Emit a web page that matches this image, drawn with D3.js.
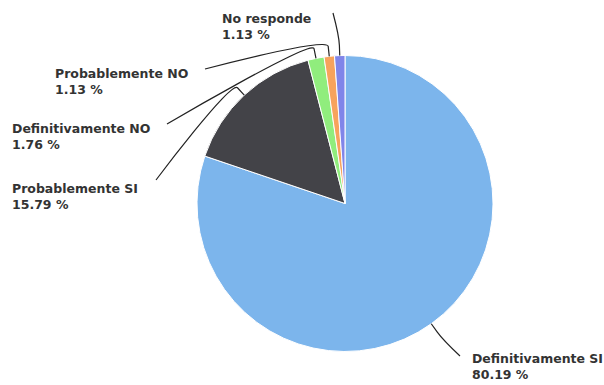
<!DOCTYPE html>
<html>
<head>
<meta charset="utf-8">
<script src="https://cdn.jsdelivr.net/npm/d3@7"></script>
<style>
  html, body { margin: 0; padding: 0; background: #fff; }
  svg { display: block; }
</style>
</head>
<body>
<svg id="chart" width="604" height="385"></svg>
<script>
// Survey answers and their shares (%)
const categories = ["Definitivamente SI", "Probablemente SI", "Definitivamente NO", "Probablemente NO", "No responde"];
const percentages = [80.19, 15.79, 1.76, 1.13, 1.13];
const colors = ["#7cb5ec", "#434348", "#90ed7d", "#f7a35c", "#8085e9"];

// Label placement: text origin (left, first baseline) and the point where the connector meets the label
const labelLayout = [
  { tx: 478, ty: 363, ax: 460, ay: 356 },
  { tx: 12,  ty: 193, ax: 156, ay: 180 },
  { tx: 12,  ty: 133, ax: 167, ay: 124 },
  { tx: 55,  ty: 78,  ax: 205, ay: 69 },
  { tx: 222, ty: 23,  ax: 333, ay: 13 }
];

const width = 604, height = 385;
const cx = 345, cy = 203.5, radius = 148;
const lineHeight = 15.5;

const svg = d3.select("#chart");
const g = svg.append("g").attr("transform", `translate(${cx},${cy})`);

const pie = d3.pie().sort(null).value(d => d);
const arcs = pie(percentages);
const arc = d3.arc().innerRadius(0).outerRadius(radius);

g.selectAll("path.slice")
  .data(arcs)
  .join("path")
  .attr("class", "slice")
  .attr("d", arc)
  .attr("fill", (d, i) => colors[i])
  .attr("stroke", "#fff")
  .attr("stroke-width", 1)
  .attr("stroke-linejoin", "round");

// point on a circle of radius r at angle a (0 = 12 o'clock, clockwise)
const polar = (a, r) => [cx + r * Math.sin(a), cy - r * Math.cos(a)];

// soft connectors: label -> bend point just outside the pie -> slice edge
svg.append("g")
  .selectAll("path")
  .data(arcs)
  .join("path")
  .attr("fill", "none")
  .attr("stroke", "#222")
  .attr("stroke-width", 1.2)
  .attr("d", (d, i) => {
    const mid = (d.startAngle + d.endAngle) / 2;
    const e = polar(mid, radius);
    const b = polar(mid, radius + 10);
    const L = labelLayout[i];
    const c2 = [2 * b[0] - e[0], 2 * b[1] - e[1]];
    return `M${L.ax},${L.ay}C${L.ax},${L.ay} ${c2[0]},${c2[1]} ${b[0]},${b[1]}L${e[0]},${e[1]}`;
  });

// two-line data labels: name and percentage
const labels = svg.append("g")
  .attr("font-family", "DejaVu Sans, sans-serif")
  .attr("font-size", "12.5px")
  .attr("font-weight", "bold")
  .attr("fill", "#333")
  .selectAll("text")
  .data(arcs)
  .join("text")
  .attr("x", (d, i) => labelLayout[i].tx)
  .attr("y", (d, i) => labelLayout[i].ty);

labels.append("tspan")
  .attr("x", (d, i) => labelLayout[i].tx)
  .text((d, i) => categories[i]);
labels.append("tspan")
  .attr("x", (d, i) => labelLayout[i].tx)
  .attr("dy", lineHeight)
  .text(d => `${d.data.toFixed(2)} %`);

// keep every label inside the drawing area
labels.each(function () {
  const box = this.getBBox();
  const over = box.x + box.width - (width - 1);
  if (over > 0) {
    d3.select(this).selectAll("tspan").attr("x", box.x - over);
  }
});
</script>
</body>
</html>
